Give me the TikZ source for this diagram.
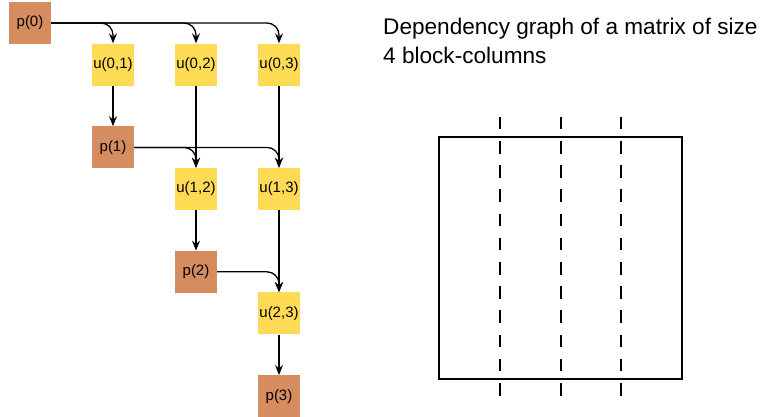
\documentclass[tikz,border=0pt]{standalone}
\usepackage{fontspec}
\setmainfont{Liberation Sans}
\usepackage{tikz}
\usetikzlibrary{arrows.meta,positioning}
\definecolor{PanelOrange}{HTML}{D58C5E}
\definecolor{UpdateYellow}{HTML}{FFDA55}

\begin{document}
\begin{tikzpicture}[x=1pt, y=-1pt,
  pnode/.style={fill=PanelOrange, minimum size=42pt, inner sep=0pt,
                font=\fontsize{15}{18}\selectfont},
  unode/.style={fill=UpdateYellow, minimum size=42pt, inner sep=0pt,
                font=\fontsize{15}{18}\selectfont},
  dep/.style={-{Stealth[length=10pt, width=8pt, inset=3.5pt]}, line width=1.3pt,
              rounded corners=12pt},
  blockcut/.style={line width=1.8pt, dash pattern=on 12.7pt off 11.5pt}]
\useasboundingbox (0,0) rectangle (761,416);
%% panel and update tasks: panel k sits in column k, its updates one row below
\foreach \k in {0,...,3}
  {\node[pnode] (p\k) at ({30+83*\k},{23+124.4*\k}) {p(\k)};}
\foreach \k/\js in {0/{1,2,3}, 1/{2,3}, 2/{3}}
  {\foreach \j in \js
     {\node[unode] (u\k\j) at ({30+83*\j},{64.5+124.4*\k}) {u(\k,\j)};}}
%% panel feeds every update of its step
\foreach \k/\js in {0/{1,2,3}, 1/{2,3}, 2/{3}}
  {\foreach \j in \js
     {\draw[dep] (p\k.east) -| (u\k\j.north);}}
%% update chains down the column
\draw[dep] (u01) -- (p1);
\draw[dep] (u02) -- (u12);
\draw[dep] (u03) -- (u13);
\draw[dep] (u12) -- (p2);
\draw[dep] (u13) -- (u23);
\draw[dep] (u23) -- (p3);
%% caption and block-column sketch (base anchor sits on the last line)
\node[anchor=base west, inner sep=0pt, align=left,
      font=\fontsize{22.6}{29}\selectfont] (title) at (383,63)
  {Dependency graph of a matrix of size\\4 block-columns};
\draw[line width=1.5pt] (439,137) rectangle (682,379);
\foreach \x in {500,561,621}
  {\draw[blockcut] (\x,116.7) -- (\x,396);}
\end{tikzpicture}
\end{document}
